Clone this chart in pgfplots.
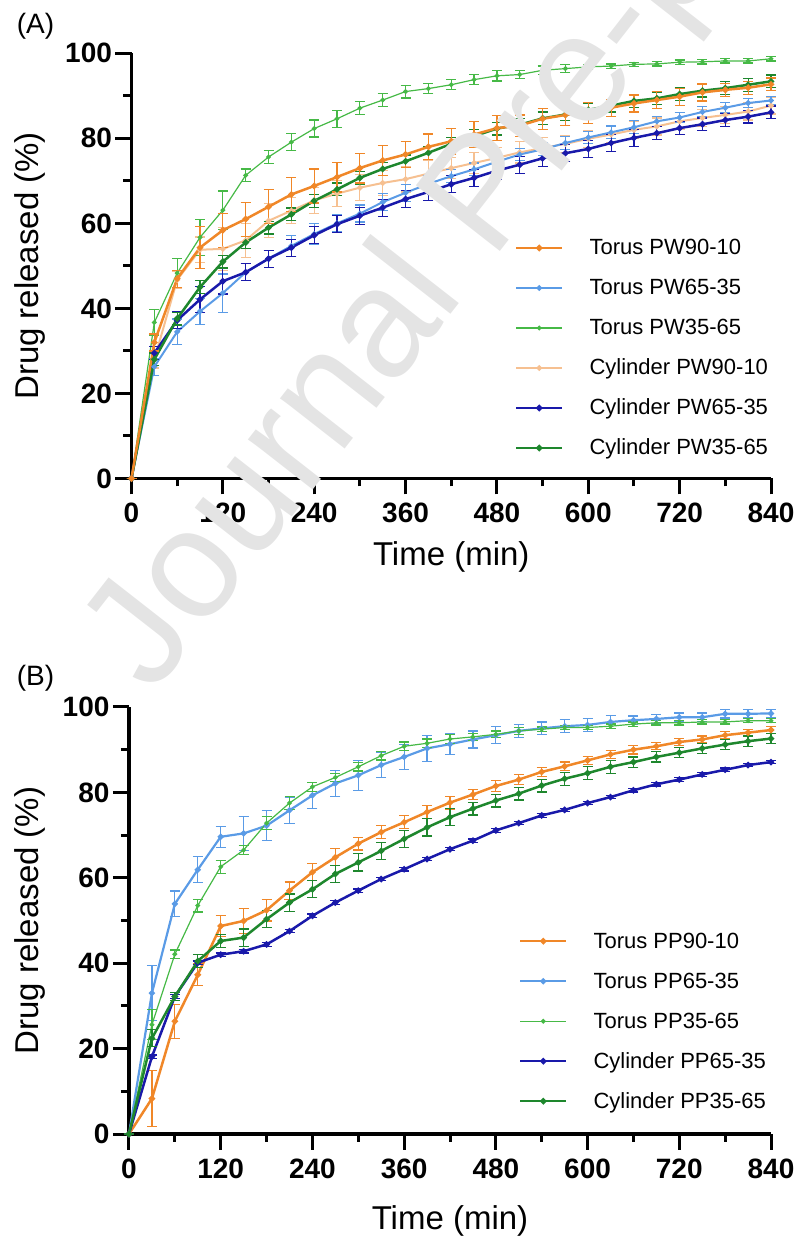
\documentclass[border=0pt]{standalone}
\usepackage{pgfplots}
\usepackage{pgfplotstable}
\pgfplotsset{compat=1.18}
\usepackage{fontspec}
\setmainfont{Liberation Sans}
\definecolor{cT90}{RGB}{240,135,40}
\definecolor{cT65}{RGB}{90,155,230}
\definecolor{cT35}{RGB}{70,185,70}
\definecolor{cC90}{RGB}{246,192,145}
\definecolor{cC65}{RGB}{25,25,170}
\definecolor{cC35}{RGB}{30,135,45}
\definecolor{wm}{RGB}{228,228,228}

\pgfplotstableread{
t T90 eT90 T65 eT65 T35 eT35 C90 eC90 C65 eC65 C35 eC35
0 0 0 0 0 0 0 0 0 0 0 0 0
30 32 2 26.3 2 36.7 3 28 2 29.5 1.5 28 1.5
60 47 2 34.5 3 48.3 3.4 46.7 2 37.2 2 37.6 1.5
90 54.3 5 39.3 3 56.7 4.3 53.8 3 42.1 3 45 1.5
120 58.4 4 43.6 4.5 63.1 4.5 54 5 46.4 3 51 1.5
150 61 4 48.5 2 71.3 1.5 56 4 48.5 2 55.5 1.5
180 63.9 4 51.7 2 75.6 1.5 60.6 4 51.7 2 59 1.5
210 66.8 4 54.7 2.5 79.1 2 63 3 54.3 2 62.1 1.5
240 68.8 4 57.5 2.5 82.3 2 65.4 3 57.2 2 65.3 1.5
270 70.9 3.5 60 2 84.6 2 67 3 59.8 2 68 1.5
300 73 3.5 62.3 2 87.1 1.5 68.4 3 61.8 2 70.7 1.5
330 74.8 3.5 65 2 89 1.5 69.5 3 63.7 2 72.8 1.5
360 76.2 3 67.2 2 91 1.5 70.4 3 65.7 2 74.6 1.5
390 78 3 69.3 2 91.7 1.2 71.7 3 67.4 2 76.6 1.5
420 79.3 3 71.1 1.5 92.6 1.2 73 2.5 69.2 2 78.7 1.5
450 80.9 3 72.7 1.5 93.8 1.2 74.2 2.5 70.7 2 80.5 1.5
480 82.4 3 74.5 1.5 94.7 1.2 75.4 2.5 72.4 2 82.3 1.5
510 83 2.5 76.2 1.5 95 1 76.7 2.5 73.8 2 83.2 1.5
540 84.6 2.5 77.4 1.5 96 1 77.7 2.5 75.3 2 84.7 1.5
570 85.5 2.5 78.9 1.5 96.4 1 78.7 2 76.5 2 85.6 1.5
600 86 2.5 80.2 1.5 96.8 0.5 79.9 2 77.5 2 86.7 1.5
630 87.2 2 81.4 1.5 97 0.5 80.9 2 78.9 2 87.7 1.5
660 88.2 2 82.6 1.5 97.4 0.5 82 2 80.1 2 88.8 1.5
690 89 2 84 1.2 97.5 0.5 82.8 2 81.2 1.5 89.4 1.5
720 89.8 2 84.9 1.2 97.9 0.5 84 2 82.4 1.5 90.4 1.5
750 90.8 2 86.2 1.2 98 0.5 84.8 2 83.3 1.5 91.2 1.5
780 91.4 1.5 87.2 1.2 98.2 0.5 85.5 2 84.3 1.5 91.8 1.5
810 91.9 1.5 88.3 1 98.2 0.5 86.3 2 85.1 1.5 92.6 1.5
840 92.7 1.5 88.9 1 98.7 0.5 87.7 2 86.1 1.5 93.4 1.5
}\dataA

\pgfplotstableread{
t T90 eT90 T65 eT65 T35 eT35 C65 eC65 C35 eC35
0 0 0 0 0 0 0 0 0 0 0
30 8.3 6.5 33 6.5 25.6 3.5 18.1 0.4 22.4 2
60 26.4 4 53.9 3 42.1 1 32.2 0.4 32.2 1
90 37.3 2.5 61.9 3 53.5 1.5 40.1 0.4 40.5 1.5
120 48.7 2.5 69.6 2.5 62.6 1.5 42 0.4 45.2 1.5
150 49.9 3 70.4 4 66.5 1 42.8 0.4 46 2
180 52.4 2.5 72.2 3.5 72.8 1.5 44.4 0.4 50.3 2
210 57 2 75.8 3 77.5 1.5 47.5 0.4 54.2 2
240 61.3 2 79.3 3 81.3 1 51.1 0.4 57.3 2
270 64.8 2 82.1 3 83.5 1 54.2 0.4 60.9 2
300 68 1.5 84 3.5 86 1 57 0.4 63.6 2
330 70.7 1.5 86.4 3 88.6 1 59.7 0.4 66.3 2
360 73 1.5 88.3 3 90.8 1 62 0.4 69.1 2
390 75.4 1.5 90.3 3 91.5 1 64.4 0.4 71.8 2
420 77.6 1.5 91.3 2.5 92.5 1 66.7 0.4 74.2 2
450 79.5 1.2 92.4 2 93 0.8 68.7 0.4 76.2 1.5
480 81.5 1.2 93.4 2 93.6 0.8 71.1 0.4 78.1 1.5
510 83 1.2 94.4 1.5 94.4 0.8 72.8 0.4 79.7 1.5
540 84.8 1 95 1.5 94.8 0.5 74.6 0.4 81.6 1.5
570 86.1 1 95.5 1.5 95.2 0.5 75.9 0.4 83.2 1.5
600 87.5 1 95.8 1.5 95.2 0.5 77.5 0.4 84.5 1.5
630 88.9 1 96.5 1.5 95.5 0.5 78.9 0.4 86 1.5
660 90 1 96.9 1 96 0.5 80.5 0.4 87.1 1.2
690 90.8 0.8 97.2 1 96.3 0.5 81.9 0.4 88.3 1.2
720 91.8 0.8 97.6 1 96.3 0.5 83 0.4 89.3 1.2
750 92.4 0.8 97.6 1 96.5 0.5 84.2 0.4 90.3 1.2
780 93.4 0.8 98.4 1 96.5 0.5 85.3 0.4 91.2 1.2
810 94 0.8 98.4 1 96.8 0.5 86.4 0.4 92 1.2
840 94.6 0.8 98.5 1 96.8 0.5 87.1 0.4 92.6 1.2
}\dataB

\pgfplotsset{
  myaxis/.style={
    scale only axis,
    xmin=0, xmax=840, ymin=0, ymax=100,
    axis lines*=left,
    axis line style={line width=3.5pt},
    xtick={0,120,...,840}, ytick={0,20,...,100},
    minor x tick num=1, minor y tick num=1,
    tick align=outside,
    major tick length=16pt, minor tick length=8pt,
    tick style={black, line width=3pt},
    tick label style={font=\fontsize{28}{28}\selectfont\bfseries},
    xticklabel style={yshift=-5pt},
    /pgf/number format/assume math mode=true,
    label style={font=\fontsize{33}{33}\selectfont},
    xlabel={Time (min)},
    ylabel={Drug released (\%)},
    clip=false,
    legend cell align=left,
    legend style={draw=none, fill=none, inner sep=0pt, outer sep=0pt,
      font=\fontsize{22}{22}\selectfont, column sep=26pt, row sep=0pt,
      nodes={inner sep=0pt, text height=20pt, text depth=20pt}},
    legend image code/.code={
      \draw[mark repeat=2,mark phase=2,#1] plot coordinates {(0pt,7pt) (23pt,7pt) (46pt,7pt)};
    },
  },
  eb/.style={error bars/.cd, y dir=both, y explicit,
    error bar style={line width=1.2pt},
    error mark options={rotate=90, mark size=5pt, line width=1.2pt}},
}

\begin{document}
\begin{tikzpicture}
\path[use as bounding box] (0pt,0pt) rectangle (800pt,1240pt);

% ---------- Panel A ----------
\begin{axis}[myaxis,
  at={(131.5pt,761.5pt)}, anchor=south west,
  width=639.5pt, height=425.2pt,
  xlabel style={at={(axis description cs:0.5,-0.185)}, anchor=center},
  ylabel style={at={(axis description cs:-0.158,0.5)}, anchor=center},
]
\addplot[cC90, line width=2pt, mark=*, mark size=1.8pt, eb] table[x=t, y=C90, y error=eC90] {\dataA};
\addplot[cT35, line width=1.2pt, mark=*, mark size=1.8pt, eb] table[x=t, y=T35, y error=eT35] {\dataA};
\addplot[cT65, line width=2pt, mark=*, mark size=1.8pt, eb] table[x=t, y=T65, y error=eT65] {\dataA};
\addplot[cC65, line width=2.5pt, mark=*, mark size=1.8pt, eb] table[x=t, y=C65, y error=eC65] {\dataA};
\addplot[cC35, line width=2.5pt, mark=*, mark size=1.8pt, eb] table[x=t, y=C35, y error=eC35] {\dataA};
\addplot[cT90, line width=2.5pt, mark=*, mark size=1.8pt, eb] table[x=t, y=T90, y error=eT90] {\dataA};
\end{axis}

\begin{axis}[myaxis,
  at={(131.5pt,761.5pt)}, anchor=south west,
  width=639.5pt, height=425.2pt,
  hide axis,
  legend style={at={(axis description cs:0.5997,0.5727)}, anchor=north west},
]
\addlegendimage{cT90, line width=2.5pt, mark=*, mark size=1.8pt}
\addlegendentry{Torus PW90-10}
\addlegendimage{cT65, line width=2pt, mark=*, mark size=1.8pt}
\addlegendentry{Torus PW65-35}
\addlegendimage{cT35, line width=1.2pt, mark=*, mark size=1.8pt}
\addlegendentry{Torus PW35-65}
\addlegendimage{cC90, line width=2pt, mark=*, mark size=1.8pt}
\addlegendentry{Cylinder PW90-10}
\addlegendimage{cC65, line width=2.5pt, mark=*, mark size=1.8pt}
\addlegendentry{Cylinder PW65-35}
\addlegendimage{cC35, line width=2.5pt, mark=*, mark size=1.8pt}
\addlegendentry{Cylinder PW35-65}
\end{axis}

% ---------- Panel B ----------
\begin{axis}[myaxis,
  at={(129pt,106pt)}, anchor=south west,
  width=642pt, height=427pt,
  xlabel style={at={(axis description cs:0.5,-0.204)}, anchor=center},
  ylabel style={at={(axis description cs:-0.154,0.5)}, anchor=center},
  legend style={at={(axis description cs:0.6075,0.482)}, anchor=north west},
]
\addplot[cT90, line width=2.5pt, mark=*, mark size=1.8pt, eb] table[x=t, y=T90, y error=eT90] {\dataB};
\addlegendentry{Torus PP90-10}
\addplot[cT65, line width=2.2pt, mark=*, mark size=1.8pt, eb] table[x=t, y=T65, y error=eT65] {\dataB};
\addlegendentry{Torus PP65-35}
\addplot[cT35, line width=1.2pt, mark=*, mark size=1.8pt, eb] table[x=t, y=T35, y error=eT35] {\dataB};
\addlegendentry{Torus PP35-65}
\addplot[cC65, line width=2.5pt, mark=*, mark size=1.8pt, eb] table[x=t, y=C65, y error=eC65] {\dataB};
\addlegendentry{Cylinder PP65-35}
\addplot[cC35, line width=2.5pt, mark=*, mark size=1.8pt, eb] table[x=t, y=C35, y error=eC35] {\dataB};
\addlegendentry{Cylinder PP35-65}
\end{axis}

% panel labels
\node[font=\fontsize{28}{28}\selectfont] at (35.5pt,1214pt) {(A)};
\node[font=\fontsize{28}{28}\selectfont] at (35.5pt,562pt) {(B)};

% watermark
\node[rotate=52, text=wm, font=\fontsize{155}{155}\selectfont] at (490pt,1041pt) {Journal Pre-proof};
\end{tikzpicture}
\end{document}
